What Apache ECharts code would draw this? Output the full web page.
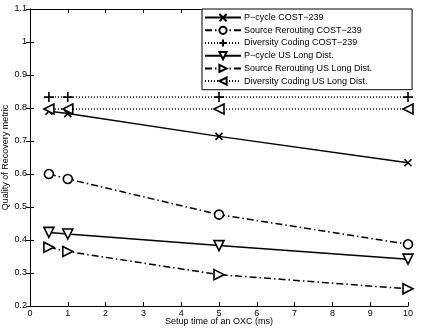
<!DOCTYPE html>
<html>
<head>
<meta charset="utf-8">
<script src="https://cdn.jsdelivr.net/npm/echarts@6/dist/echarts.min.js"></script>
<style>
html,body{margin:0;padding:0;background:#fff;}
#chart{width:421px;height:332px;}
</style>
</head>
<body>
<div id="chart"></div>
<script>
var setupTimes = [0.5, 1, 5, 10];
var pcycleCost = [0.79, 0.783, 0.714, 0.634];
var srcRerouteCost = [0.60, 0.585, 0.477, 0.387];
var divCodingCost = [0.833, 0.833, 0.833, 0.833];
var pcycleUS = [0.423, 0.418, 0.383, 0.342];
var srcRerouteUS = [0.378, 0.365, 0.295, 0.252];
var divCodingUS = [0.797, 0.797, 0.797, 0.797];
var seriesNames = ['P\u2212cycle COST\u2212239', 'Source Rerouting COST\u2212239', 'Diversity Coding COST\u2212239',
  'P\u2212cycle US Long Dist.', 'Source Rerouting US Long Dist.', 'Diversity Coding US Long Dist.'];

var font = 'Liberation Sans';
var dashDot = [7, 3, 1.5, 3];
var dotted = [1, 2];

function pairs(vals){
  return setupTimes.map(function(x, i){ return [x, vals[i]]; });
}

function mk(name, vals, lineType, symbol, size){
  return {
    name: name,
    type: 'line',
    data: pairs(vals),
    symbol: symbol,
    symbolSize: size,
    showAllSymbol: true,
    lineStyle: { color: '#000', width: 1.5, type: lineType },
    itemStyle: { color: '#fff', borderColor: '#000', borderWidth: 1.6 },
    emphasis: { disabled: true },
    animation: false
  };
}

var cross = 'path://M0,0 L10,10 M10,0 L0,10';
var plus = 'path://M5,0 L5,10 M0,5 L10,5';
var triDown = 'path://M0,0 L10,0 L5,9 Z';
var triRight = 'path://M0,0 L9,5 L0,10 Z';
var triLeft = 'path://M9,0 L0,5 L9,10 Z';

var myChart = echarts.init(document.getElementById('chart'));
var option = {
  backgroundColor: '#fff',
  animation: false,
  grid: { left: 30, right: 13, top: 9, bottom: 26, containLabel: false, outerBoundsMode: 'none' },
  legend: {
    orient: 'vertical',
    left: 202,
    top: 9,
    width: 207,
    itemWidth: 36,
    itemHeight: 9,
    itemGap: 3.5,
    padding: [4, 40, 4, 2],
    backgroundColor: '#fff',
    borderColor: '#000',
    borderWidth: 1,
    borderRadius: 0,
    textStyle: { fontFamily: font, fontSize: 9, color: '#000', padding: [0, 0, 0, -2] },
    data: seriesNames
  },
  xAxis: [{
    type: 'value', min: 0, max: 10, interval: 1,
    name: 'Setup time of an OXC (ms)', nameLocation: 'middle', nameGap: 11, nameMoveOverlap: false,
    nameTextStyle: { fontFamily: font, fontSize: 9, color: '#000', verticalAlign: 'top' },
    axisLine: { lineStyle: { color: '#000', width: 1 } },
    axisTick: { inside: true, length: 4, lineStyle: { color: '#000' } },
    axisLabel: { fontFamily: font, fontSize: 9, color: '#000', margin: 3 },
    splitLine: { show: false }
  }, {
    type: 'value', min: 0, max: 10, interval: 1, position: 'top',
    axisLine: { lineStyle: { color: '#000', width: 1 } },
    axisTick: { inside: true, length: 4, lineStyle: { color: '#000' } },
    axisLabel: { show: false },
    splitLine: { show: false }
  }],
  yAxis: [{
    type: 'value', min: 0.2, max: 1.1, interval: 0.1,
    name: 'Quality of Recovery metric', nameLocation: 'middle', nameGap: 20, nameMoveOverlap: false,
    nameTextStyle: { fontFamily: font, fontSize: 9, color: '#000' },
    axisLine: { show: true, lineStyle: { color: '#000', width: 1 } },
    axisTick: { show: true, inside: true, length: 4, lineStyle: { color: '#000' } },
    axisLabel: { fontFamily: font, fontSize: 9, color: '#000', margin: 3,
      formatter: function(v){ return String(+v.toFixed(1)); } },
    splitLine: { show: false }
  }, {
    type: 'value', min: 0.2, max: 1.1, interval: 0.1, position: 'right',
    axisLine: { show: true, lineStyle: { color: '#000', width: 1 } },
    axisTick: { show: true, inside: true, length: 4, lineStyle: { color: '#000' } },
    axisLabel: { show: false },
    splitLine: { show: false }
  }],
  series: [
    mk(seriesNames[0], pcycleCost, 'solid', cross, 7),
    mk(seriesNames[1], srcRerouteCost, dashDot, 'circle', 9),
    mk(seriesNames[2], divCodingCost, dotted, plus, 10),
    mk(seriesNames[3], pcycleUS, 'solid', triDown, 10),
    mk(seriesNames[4], srcRerouteUS, dashDot, triRight, 10),
    mk(seriesNames[5], divCodingUS, dotted, triLeft, 10)
  ]
};
myChart.setOption(option);
</script>
</body>
</html>
